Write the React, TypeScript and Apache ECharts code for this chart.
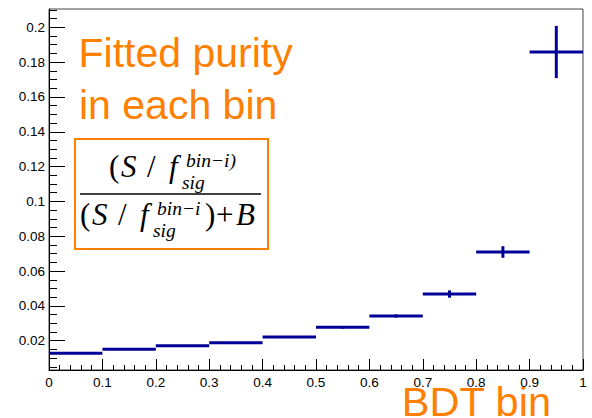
import React, { useEffect, useRef } from "react";
import * as echarts from "echarts";

// BDT bins (lower / upper edges)
const binLow = [0, 0.1, 0.2, 0.3, 0.4, 0.5, 0.6, 0.7, 0.8, 0.9];
const binHigh = [0.1, 0.2, 0.3, 0.4, 0.5, 0.6, 0.7, 0.8, 0.9, 1.0];
// Fitted purity per bin and its error
const purity = [0.01276, 0.01506, 0.01713, 0.01885, 0.02213, 0.0277, 0.03419, 0.04683, 0.07096, 0.18581];
const purityErr = [0.0004, 0.0004, 0.0004, 0.0004, 0.0005, 0.0007, 0.0009, 0.0021, 0.0033, 0.015];
// Y axis ticks
const yTickValues = [0.02, 0.04, 0.06, 0.08, 0.1, 0.12, 0.14, 0.16, 0.18, 0.2];
const yMinorTickValues = [
  0.005, 0.01, 0.015, 0.02, 0.025, 0.03, 0.035, 0.04, 0.045, 0.05, 0.055, 0.06, 0.065, 0.07,
  0.075, 0.08, 0.085, 0.09, 0.095, 0.1, 0.105, 0.11, 0.115, 0.12, 0.125, 0.13, 0.135, 0.14,
  0.145, 0.15, 0.155, 0.16, 0.165, 0.17, 0.175, 0.18, 0.185, 0.19, 0.195, 0.2, 0.205, 0.21,
];
const yMin = 0.0032;
const yMax = 0.2105;

const ORANGE = "#ff7f00";
const BLUE = "#000099";
const SANS = '"Liberation Sans", Arial, Helvetica, sans-serif';
const SERIF = '"Liberation Serif", "Times New Roman", serif';

function sansText(text: string, x: number, baseline: number, size: number) {
  return {
    type: "text",
    x,
    y: baseline - 0.3465 * size,
    silent: true,
    style: {
      text,
      fill: ORANGE,
      fontSize: size,
      fontFamily: SANS,
      align: "left",
      verticalAlign: "middle",
      textAlign: "left",
      textVerticalAlign: "middle",
    },
  };
}

function serifText(text: string, x: number, baseline: number, size: number, italic: boolean) {
  return {
    type: "text",
    x,
    y: baseline - 0.3375 * size,
    silent: true,
    style: {
      text,
      fill: "#000",
      fontSize: size,
      fontFamily: SERIF,
      fontStyle: italic ? "italic" : "normal",
      align: "left",
      verticalAlign: "middle",
      textAlign: "left",
      textVerticalAlign: "middle",
    },
  };
}

export default function App() {
  const ref = useRef<HTMLDivElement>(null);

  useEffect(() => {
    if (!ref.current) return;
    const chart = echarts.init(ref.current, null, { renderer: "svg" });

    const data = binLow.map((lo, i) => [lo, binHigh[i], purity[i], purityErr[i]]);

    const M = 31; // main formula size
    const s = 19.5; // script size
    const numBase = 177;
    const denBase = 225;
    const supOff = -10;
    const subOff = 12.5;

    const option: any = {
      animation: false,
      backgroundColor: "#fff",
      grid: {
        left: 49,
        right: 9,
        top: 9,
        bottom: 48,
        show: true,
        borderColor: "#444",
        borderWidth: 1,
        backgroundColor: "transparent",
      },
      xAxis: {
        type: "value",
        min: 0,
        max: 1,
        interval: 0.1,
        axisLine: { show: true, onZero: false, lineStyle: { color: "#000", width: 1 } },
        axisTick: { show: true, inside: true, length: 11, lineStyle: { color: "#000" } },
        minorTick: { show: true, splitNumber: 5, length: 5, lineStyle: { color: "#000" } },
        splitLine: { show: false },
        axisLabel: { color: "#000", fontSize: 13.5, fontFamily: SANS, margin: 5 },
      },
      yAxis: [
        {
          type: "value",
          position: "left",
          min: yMin,
          max: yMax,
          axisLine: { show: true, onZero: false, lineStyle: { color: "#000", width: 1 } },
          axisTick: {
            show: true,
            inside: true,
            length: 16,
            customValues: yTickValues,
            lineStyle: { color: "#000" },
          },
          splitLine: { show: false },
          axisLabel: {
            color: "#000",
            fontSize: 13.5,
            fontFamily: SANS,
            margin: 4,
            customValues: yTickValues,
          },
        },
        {
          type: "value",
          position: "left",
          min: yMin,
          max: yMax,
          axisLine: { show: false },
          axisTick: {
            show: true,
            inside: true,
            length: 8,
            customValues: yMinorTickValues,
            lineStyle: { color: "#000" },
          },
          splitLine: { show: false },
          axisLabel: { show: false },
        },
      ],
      series: [
        {
          type: "custom",
          xAxisIndex: 0,
          yAxisIndex: 0,
          clip: false,
          encode: { x: [0, 1], y: 2 },
          data,
          renderItem: (params: any, api: any) => {
            const lo = api.value(0);
            const hi = api.value(1);
            const v = api.value(2);
            const e = api.value(3);
            const pL = api.coord([lo, v]);
            const pR = api.coord([hi, v]);
            const pT = api.coord([(lo + hi) / 2, v + e]);
            const pB = api.coord([(lo + hi) / 2, v - e]);
            return {
              type: "group",
              children: [
                {
                  type: "line",
                  shape: { x1: pL[0], y1: pL[1], x2: pR[0], y2: pR[1] },
                  style: { stroke: BLUE, lineWidth: 3 },
                },
                {
                  type: "line",
                  shape: { x1: pT[0], y1: pT[1], x2: pB[0], y2: pB[1] },
                  style: { stroke: BLUE, lineWidth: 3 },
                },
              ],
            };
          },
        },
      ],
      graphic: [
        sansText("Fitted purity", 78.5, 67.3, 41),
        sansText("in each bin", 79, 119.3, 41),
        sansText("BDT bin", 401.8, 416, 41.5),
        {
          type: "rect",
          shape: { x: 75, y: 139, width: 193, height: 110 },
          style: { fill: "#fff", stroke: ORANGE, lineWidth: 2 },
          silent: true,
        },
        {
          type: "line",
          shape: { x1: 80, y1: 194, x2: 261, y2: 194 },
          style: { stroke: "#000", lineWidth: 1.6 },
          silent: true,
        },
        // numerator
        serifText("(", 109, numBase, M, false),
        serifText("S", 121, numBase, M, true),
        serifText("/", 147, numBase, M, false),
        serifText("f", 169, numBase, M, true),
        serifText("bin\u2212i)", 186, numBase + supOff, s, true),
        serifText("sig", 182, numBase + subOff, s, true),
        // denominator
        serifText("(", 80, denBase, M, false),
        serifText("S", 92, denBase, M, true),
        serifText("/", 118, denBase, M, false),
        serifText("f", 140, denBase, M, true),
        serifText("bin\u2212i", 157, denBase + supOff, s, true),
        serifText("sig", 153, denBase + subOff, s, true),
        serifText(")", 205, denBase, M, false),
        serifText("+", 216, denBase, M, false),
        serifText("B", 236, denBase, M, true),
      ],
    };

    chart.setOption(option);
    return () => {
      chart.dispose();
    };
  }, []);

  return (
    <div
      ref={ref}
      style={{ position: "absolute", left: 0, top: 0, width: 592, height: 418, background: "#fff" }}
    />
  );
}
